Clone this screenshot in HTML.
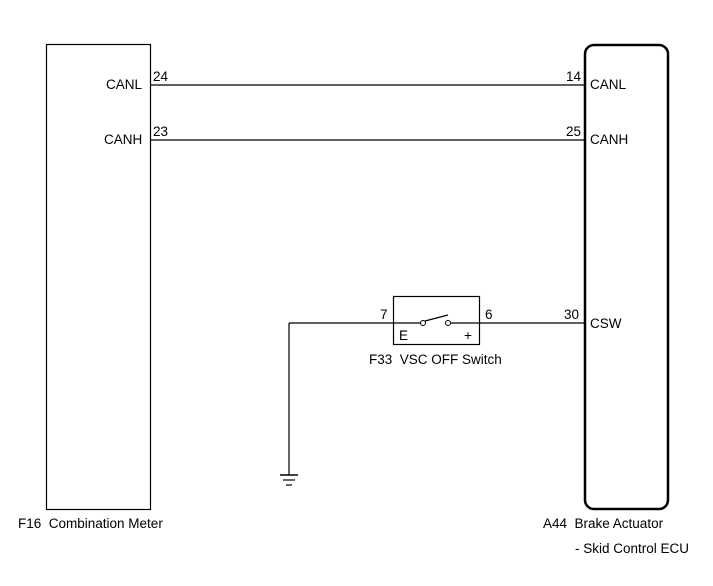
<!DOCTYPE html>
<html><head><style>body{margin:0;background:#fff}</style></head><body>
<svg width="713" height="581" xmlns="http://www.w3.org/2000/svg" font-family="Liberation Sans, sans-serif" font-size="13.5" fill="#000">
<rect x="46.5" y="44.5" width="104" height="465" fill="none" stroke="#000" stroke-width="1.2"/>
<rect x="585" y="45" width="83" height="464" rx="9" fill="none" stroke="#000" stroke-width="2.5"/>
<line x1="150" y1="85" x2="585" y2="85" stroke="#000" stroke-width="1.2"/>
<line x1="150" y1="140" x2="585" y2="140" stroke="#000" stroke-width="1.2"/>
<line x1="289" y1="323" x2="420" y2="323" stroke="#000" stroke-width="1.2"/>
<line x1="451" y1="323" x2="585" y2="323" stroke="#000" stroke-width="1.2"/>
<line x1="289" y1="323" x2="289" y2="475" stroke="#000" stroke-width="1.2"/>
<line x1="280" y1="475" x2="298" y2="475" stroke="#000" stroke-width="1.5"/>
<line x1="283" y1="480" x2="295" y2="480" stroke="#000" stroke-width="1.2"/>
<line x1="286" y1="485" x2="292" y2="485" stroke="#000" stroke-width="1.2"/>
<rect x="393.5" y="296.5" width="86" height="48" fill="none" stroke="#000" stroke-width="1.2"/>
<circle cx="423" cy="323" r="2.5" fill="#fff" stroke="#000"/>
<circle cx="448" cy="323" r="2.5" fill="#fff" stroke="#000"/>
<line x1="425" y1="321" x2="448" y2="315" stroke="#000" stroke-width="1.2"/>
<text x="106" y="89">CANL</text>
<text x="104" y="144">CANH</text>
<text x="153" y="81">24</text>
<text x="153" y="136">23</text>
<text x="566" y="81">14</text>
<text x="566" y="136">25</text>
<text x="590" y="89">CANL</text>
<text x="590" y="144">CANH</text>
<text x="564" y="319">30</text>
<text x="590" y="328">CSW</text>
<text x="380" y="319">7</text>
<text x="485" y="319">6</text>
<text x="399" y="340">E</text>
<text x="464" y="340">+</text>
<text x="369" y="364">F33&#160;&#160;VSC OFF Switch</text>
<text x="18" y="528">F16&#160;&#160;Combination Meter</text>
<text x="543" y="528">A44&#160;&#160;Brake Actuator</text>
<text x="575" y="553">- Skid Control ECU</text>
</svg>
</body></html>
